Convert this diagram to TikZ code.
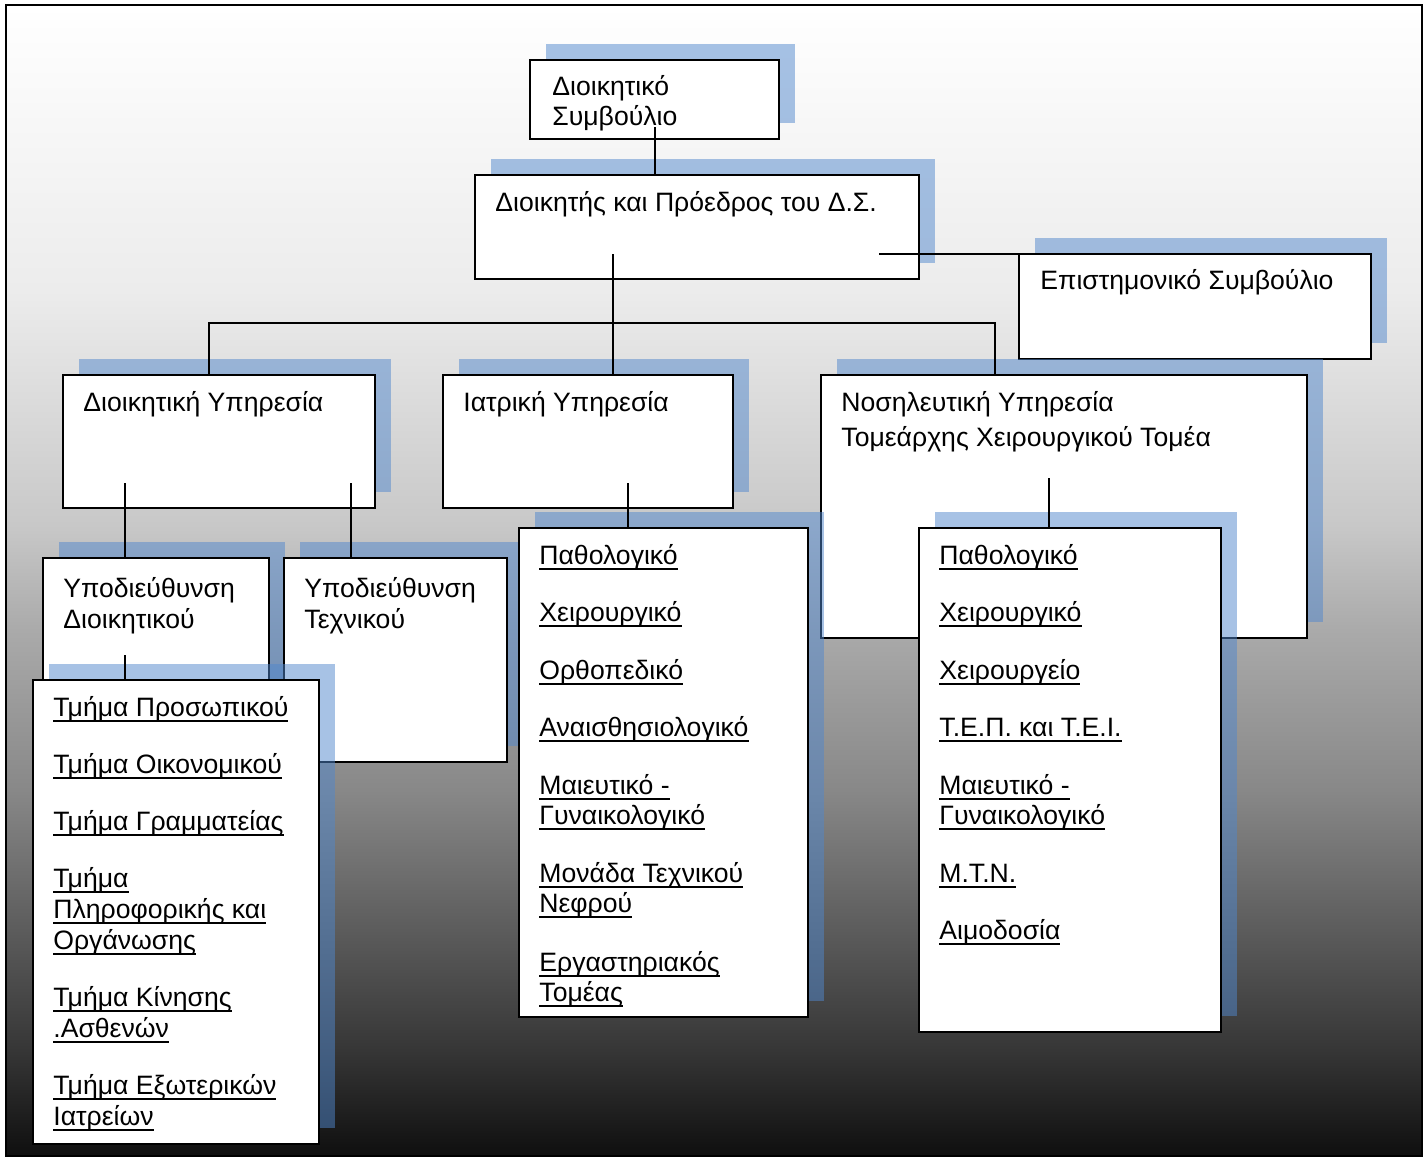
\documentclass[tikz,border=0pt]{standalone}
\usepackage{fontspec}
\setmainfont{Liberation Sans}
\usetikzlibrary{fit}
\definecolor{gA}{RGB}{15,15,15}
\definecolor{gB}{RGB}{54,54,54}
\definecolor{gC}{RGB}{136,136,136}
\definecolor{gD}{RGB}{170,170,170}
\definecolor{gE}{RGB}{200,200,200}
\definecolor{gF}{RGB}{236,236,236}
\definecolor{shc}{RGB}{80,135,205}
\pgfdeclareverticalshading{bgshade}{100bp}{color(0bp)=(gA); color(25bp)=(gA); color(29.6bp)=(gB); color(40.9bp)=(gC); color(47.85bp)=(gD); color(52.4bp)=(gE); color(62.6bp)=(gF); color(75bp)=(white); color(100bp)=(white)}
\newsavebox\ulbox
\newcommand\myul[1]{\sbox\ulbox{#1}\rlap{\rule[-2.5pt]{\wd\ulbox}{1pt}}\usebox\ulbox}
\newcommand\orgbox[5]{%
  \fill[shadowfill] (#2+16,#3-16) rectangle (#4+16,#5-16);
  \node[orgnode, fit={(#2,#3)(#4,#5)}] (#1) {};
}
\tikzset{
  shadowfill/.style={fill=shc, fill opacity=0.5},
  orgnode/.style={draw=black, line width=1.1pt, fill=white, inner sep=0pt, rectangle},
  txt/.style={anchor=base west, inner sep=0pt, font=\fontsize{13.3pt}{15pt}\selectfont},
  conn/.style={draw=black, line width=1pt}
}
\begin{document}
\begin{tikzpicture}[x=0.5pt, y=-0.5pt]
\useasboundingbox (0,0) rectangle (1428,1158);
\fill[white] (0,0) rectangle (1428,1158);
\shade[shading=bgshade] (6,5) rectangle (1422,1156);
\draw[line width=1.3pt] (6,5) rectangle (1422,1156);

\orgbox{dsym}{530}{60}{779}{139}
\node[txt] (t1) at (552,95) {Διοικητικό};
\node[txt] (t2) at (552,125.5) {Συμβούλιο};

\orgbox{dp}{475}{175}{919}{279}
\node[txt] (t3) at (495,211) {Διοικητής και Πρόεδρος του Δ.Σ.};

\orgbox{es}{1019}{254}{1371}{359}
\node[txt] (t4) at (1040,289.5) {Επιστημονικό Συμβούλιο};

\orgbox{dy}{63}{375}{375}{508}
\node[txt] (t5) at (83,411.5) {Διοικητική Υπηρεσία};

\orgbox{iy}{443}{375}{733}{508}
\node[txt] (t6) at (463,411.5) {Ιατρική Υπηρεσία};

\orgbox{ny}{821}{375}{1307}{638}
\node[txt] (t7) at (841,411.5) {Νοσηλευτική Υπηρεσία};
\node[txt] (t8) at (841,446.5) {Τομεάρχης Χειρουργικού Τομέα};

\orgbox{ud}{43}{558}{269}{762}
\node[txt] (t9) at (63,597) {Υποδιεύθυνση};
\node[txt] (t10) at (63,628.5) {Διοικητικού};

\orgbox{ut}{284}{558}{507}{762}
\node[txt] (t11) at (304,597) {Υποδιεύθυνση};
\node[txt] (t12) at (304,628.5) {Τεχνικού};

\orgbox{tm}{33}{680}{319}{1144}
\node[txt] (m1) at (53,716.5) {\myul{Τμήμα Προσωπικού}};
\node[txt] (m2) at (53,773.5) {\myul{Τμήμα Οικονομικού}};
\node[txt] (m3) at (53,830.5) {\myul{Τμήμα Γραμματείας}};
\node[txt] (m4) at (53,887.5) {\myul{Τμήμα}};
\node[txt] (m5) at (53,918.5) {\myul{Πληροφορικής και}};
\node[txt] (m6) at (53,949.5) {\myul{Οργάνωσης}};
\node[txt] (m7) at (53,1006.5) {\myul{Τμήμα Κίνησης}};
\node[txt] (m8) at (53,1037.5) {\myul{.Ασθενών}};
\node[txt] (m9) at (53,1094.5) {\myul{Τμήμα Εξωτερικών}};
\node[txt] (m10) at (53,1125.5) {\myul{Ιατρείων}};

\orgbox{il}{519}{528}{808}{1017}
\node[txt] (a1) at (539,564.5) {\myul{Παθολογικό}};
\node[txt] (a2) at (539,621.5) {\myul{Χειρουργικό}};
\node[txt] (a3) at (539,679.5) {\myul{Ορθοπεδικό}};
\node[txt] (a4) at (539,736.5) {\myul{Αναισθησιολογικό}};
\node[txt] (a5) at (539,794.5) {\myul{Μαιευτικό -}};
\node[txt] (a6) at (539,824.5) {\myul{Γυναικολογικό}};
\node[txt] (a7) at (539,882.5) {\myul{Μονάδα Τεχνικού}};
\node[txt] (a8) at (539,912.5) {\myul{Νεφρού}};
\node[txt] (a9) at (539,971.5) {\myul{Εργαστηριακός}};
\node[txt] (a10) at (539,1001.5) {\myul{Τομέας}};

\orgbox{nl}{919}{528}{1221}{1032}
\node[txt] (b1) at (939,564.5) {\myul{Παθολογικό}};
\node[txt] (b2) at (939,621.5) {\myul{Χειρουργικό}};
\node[txt] (b3) at (939,679.5) {\myul{Χειρουργείο}};
\node[txt] (b4) at (939,736.5) {\myul{Τ.Ε.Π. και Τ.Ε.Ι.}};
\node[txt] (b5) at (939,794.5) {\myul{Μαιευτικό -}};
\node[txt] (b6) at (939,824.5) {\myul{Γυναικολογικό}};
\node[txt] (b7) at (939,882.5) {\myul{Μ.Τ.Ν.}};
\node[txt] (b8) at (939,939.5) {\myul{Αιμοδοσία}};

% connectors
\coordinate (k1) at (655,127);
\coordinate (k2) at (879,254);
\coordinate (k3) at (613,254);
\coordinate (k4) at (209,323);
\coordinate (k5) at (995,323);
\coordinate (k6) at (125,483);
\coordinate (k7) at (351,483);
\coordinate (k8) at (628,483);
\coordinate (k9) at (1049,478);
\coordinate (k10) at (125,655);
\draw[conn] (k1) -- (k1 |- dp.north);
\draw[conn] (k2) -- (k2 -| es.west);
\draw[conn] (k3) -- (k3 |- iy.north);
\draw[conn] (k4 |- dy.north) -- (k4) -- (k5) -- (k5 |- ny.north);
\draw[conn] (k6) -- (k6 |- ud.north);
\draw[conn] (k7) -- (k7 |- ut.north);
\draw[conn] (k8) -- (k8 |- il.north);
\draw[conn] (k9) -- (k9 |- nl.north);
\draw[conn] (k10) -- (k10 |- tm.north);
\end{tikzpicture}
\end{document}
